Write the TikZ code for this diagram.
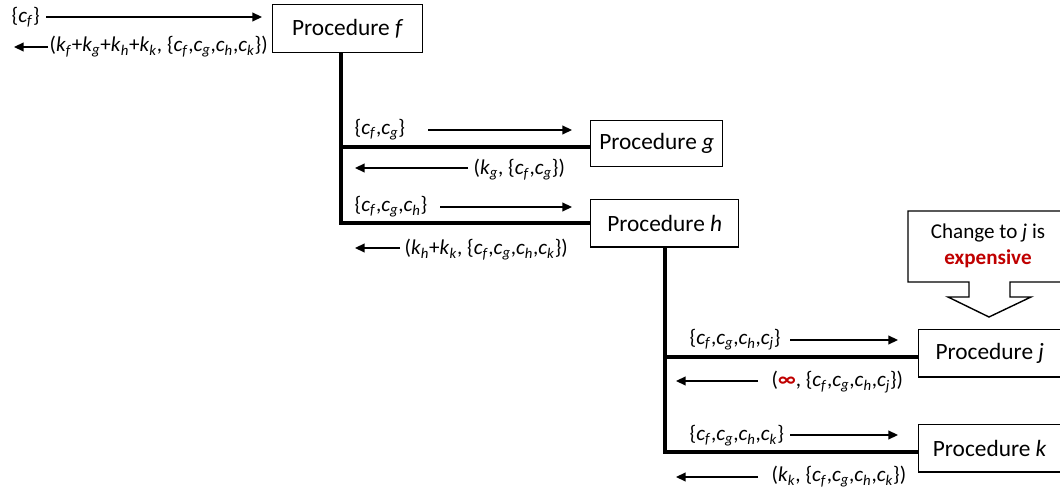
\documentclass[tikz,border=0pt]{standalone}
\usepackage{fontspec}
\setmainfont{Carlito}
\usetikzlibrary{arrows.meta,positioning,calc}
\definecolor{prcRed}{HTML}{C00000}
\newcommand{\cv}[1]{\textit{c}\textsubscript{\textit{#1}}}
\newcommand{\kv}[1]{\textit{k}\textsubscript{\textit{#1}}}
\tikzset{
  prcBox/.style={
    draw,
    line width=1pt,
    anchor=north west,
    inner sep=2pt,
    font=\fontsize{16.6}{19}\selectfont
  },
  prcWire/.style={line width=2.8pt},
  prcArrow/.style={-{Triangle[length=2.4mm,width=2.2mm]}, line width=0.9pt},
  prcMsg/.style={anchor=west, inner sep=1pt, font=\fontsize{15}{18}\selectfont},
  prcNote/.style={draw, line width=1pt, fill=white}
}
\begin{document}
\begin{tikzpicture}[x=0.025cm, y=-0.025cm]
  \useasboundingbox (0,0) rectangle (1060,490);

  % procedures
  \node[prcBox, minimum width=3.75cm, minimum height=1.2cm] (f) at (272,4) {Procedure \textit{f}};
  \node[prcBox, minimum width=3.3cm, minimum height=1.15cm] (g) at (590,120) {Procedure \textit{g}};
  \node[prcBox, minimum width=3.7cm, minimum height=1.18cm] (h) at (590,199) {Procedure \textit{h}};
  \node[prcBox, minimum width=3.55cm, minimum height=1.18cm] (j) at (918,329) {Procedure \textit{j}};
  \node[prcBox, minimum width=3.55cm, minimum height=1.18cm] (k) at (918,424) {Procedure \textit{k}};

  % call tree
  \coordinate (fTrunk) at ($(f.south west)+(69,0)$);
  \coordinate (gTap) at ($(g.west)+(0,3)$);
  \coordinate (jTap) at ($(j.west)+(0,4)$);
  \coordinate (kTap) at ($(k.west)+(0,4)$);
  \draw[prcWire] (fTrunk) |- (h.west);
  \draw[prcWire] (fTrunk |- gTap) -- (gTap);
  \draw[prcWire] (h.south) |- (kTap);
  \draw[prcWire] (h.south |- jTap) -- (jTap);

  % messages
  \node[prcMsg] (fIn) at (10,17) {\{\cv{f}\}};
  \node[prcMsg] (fOut) at (48,47) {(\kv{f}+\kv{g}+\kv{h}+\kv{k}, \{\cv{f},\cv{g},\cv{h},\cv{k}\})};
  \node[prcMsg] (gIn) at (353,130) {\{\cv{f},\cv{g}\}};
  \node[prcMsg] (gOut) at (472,170) {(\kv{g}, \{\cv{f},\cv{g}\})};
  \node[prcMsg] (hIn) at (353,207) {\{\cv{f},\cv{g},\cv{h}\}};
  \node[prcMsg] (hOut) at (403,250) {(\kv{h}+\kv{k}, \{\cv{f},\cv{g},\cv{h},\cv{k}\})};
  \node[prcMsg] (jIn) at (688,340) {\{\cv{f},\cv{g},\cv{h},\cv{j}\}};
  \node[prcMsg] (jOut) at (770,382) {(\textcolor{prcRed}{\textbf{∞}}, \{\cv{f},\cv{g},\cv{h},\cv{j}\})};
  \node[prcMsg] (kIn) at (688,436) {\{\cv{f},\cv{g},\cv{h},\cv{k}\}};
  \node[prcMsg] (kOut) at (770,477) {(\kv{k}, \{\cv{f},\cv{g},\cv{h},\cv{k}\})};

  \coordinate (fInTail) at (46,17);   \coordinate (fInTip) at (262,17);
  \coordinate (fOutTip) at (14,47);
  \coordinate (gInTail) at (428,130); \coordinate (gInTip) at (572,130);
  \coordinate (gOutTail) at (468,168); \coordinate (gOutTip) at (355,168);
  \coordinate (hInTail) at (440,207); \coordinate (hInTip) at (572,207);
  \coordinate (hOutTail) at (400,248); \coordinate (hOutTip) at (355,248);
  \coordinate (jInTail) at (790,340); \coordinate (jInTip) at (898,340);
  \coordinate (jOutTail) at (758,381); \coordinate (jOutTip) at (676,381);
  \coordinate (kInTail) at (790,435); \coordinate (kInTip) at (898,435);
  \coordinate (kOutTail) at (758,477); \coordinate (kOutTip) at (676,477);

  \draw[prcArrow] (fInTail) -- (fInTip);
  \draw[prcArrow] (fOut.west) -- (fOutTip);
  \foreach \m in {gIn,gOut,hIn,hOut,jIn,jOut,kIn,kOut}
    \draw[prcArrow] (\m Tail) -- (\m Tip);

  % warning callout
  \draw[prcNote] (908,211) -- (1068,211) -- (1068,282) -- (1010,282) -- (1010,297)
    -- (1031,297) -- (989,317) -- (948,297) -- (969,297) -- (969,282) -- (908,282) -- cycle;
  \node[align=center, font=\fontsize{15}{18.5}\selectfont] (warn) at (988,246)
    {Change to \textit{j} is\\\textcolor{prcRed}{\textbf{expensive}}};
\end{tikzpicture}
\end{document}
